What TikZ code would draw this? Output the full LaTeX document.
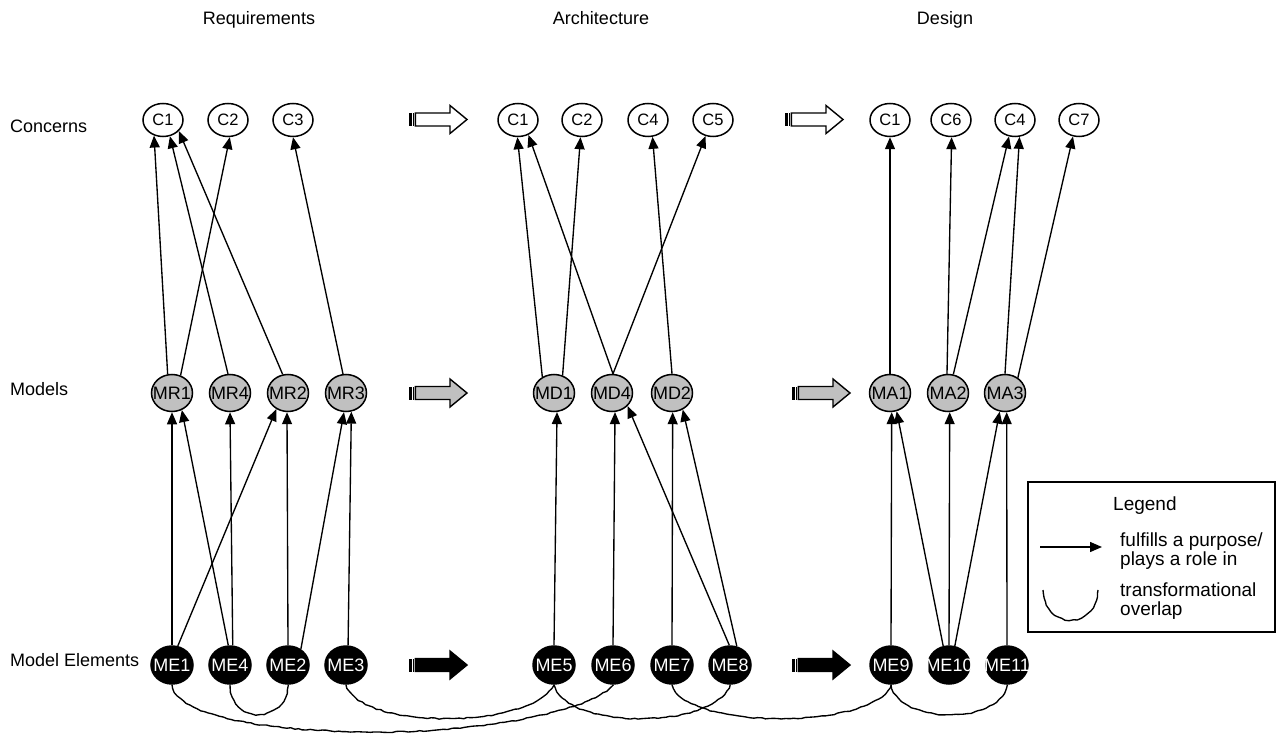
\documentclass[tikz,border=0pt]{standalone}
\usepackage{fontspec}
\setmainfont{Liberation Sans}
\usetikzlibrary{arrows.meta,shapes.geometric,decorations.pathmorphing}
\definecolor{mgray}{RGB}{192,192,192}
\tikzset{
  conc/.style={ellipse,draw,line width=1.5pt,fill=white,minimum width=40pt,minimum height=33pt,inner sep=0pt},
  modl/.style={ellipse,draw,line width=1.5pt,fill=mgray,minimum width=41pt,minimum height=37pt,inner sep=0pt},
  elem/.style={ellipse,draw,line width=1.5pt,fill=black,minimum width=42pt,minimum height=38pt,inner sep=0pt},
  ctxt/.style={font=\fontsize{16.5}{16.5}\selectfont,inner sep=0pt},
  mtxt/.style={font=\fontsize{18}{18}\selectfont,inner sep=0pt},
  etxt/.style={font=\fontsize{18}{18}\selectfont,inner sep=0pt,text=white},
  rowlab/.style={font=\fontsize{18}{18}\selectfont,anchor=west,inner sep=0pt},
  title/.style={font=\fontsize{18}{18}\selectfont,inner sep=0pt,anchor=base},
  legtxt/.style={font=\fontsize{19}{19.5}\selectfont,anchor=west,inner sep=0pt,align=left},
  fl/.style={line width=1.35pt,-{Triangle[length=12pt,width=10pt]}},
  ov/.style={line width=1.35pt,decorate,decoration={random steps,segment length=4pt,amplitude=0.6pt}},
  pics/blockarr/.style={code={
    \fill[black] (0,-6.5) rectangle (2.8,6.5);
    \fill[black] (3.8,-6.5) rectangle (5.3,6.5);
    \draw[fill=#1,line width=1.4pt] (6.3,-6.5) -- (41,-6.5) -- (41,-14) -- (58,0) -- (41,14) -- (41,6.5) -- (6.3,6.5) -- cycle;
  }}
}
\begin{document}
\pgfmathsetseed{7}
\begin{tikzpicture}[x=1pt,y=-1pt]
\useasboundingbox (0,0) rectangle (1277,735);

% titles
\node[title] (tR) at (259,24.3) {Requirements};
\node[title] (tA) at (601,24.3) {Architecture};
\node[title] (tD) at (945,24.3) {Design};

% row labels
\node[rowlab] (lC) at (10,126) {Concerns};
\node[rowlab] (lM) at (10,389) {Models};
\node[rowlab] (lE) at (10,660) {Model Elements};

% Requirements
\node[conc,label={[ctxt]center:C1}] (rC1) at (163,120) {};
\node[conc,label={[ctxt]center:C2}] (rC2) at (228,120) {};
\node[conc,label={[ctxt]center:C3}] (rC3) at (293,120) {};
\node[modl,label={[mtxt]center:MR1}] (rMR1) at (172,393) {};
\node[modl,label={[mtxt]center:MR4}] (rMR4) at (230,393) {};
\node[modl,label={[mtxt]center:MR2}] (rMR2) at (288,393) {};
\node[modl,label={[mtxt]center:MR3}] (rMR3) at (346,393) {};
\node[elem,label={[etxt]center:ME1}] (rME1) at (172,665) {};
\node[elem,label={[etxt]center:ME4}] (rME4) at (230,665) {};
\node[elem,label={[etxt]center:ME2}] (rME2) at (288,665) {};
\node[elem,label={[etxt]center:ME3}] (rME3) at (346,665) {};

% Architecture
\node[conc,label={[ctxt]center:C1}] (aC1) at (518,120) {};
\node[conc,label={[ctxt]center:C2}] (aC2) at (582,120) {};
\node[conc,label={[ctxt]center:C4}] (aC4) at (648,120) {};
\node[conc,label={[ctxt]center:C5}] (aC5) at (713,120) {};
\node[modl,label={[mtxt]center:MD1}] (MD1) at (554,393) {};
\node[modl,label={[mtxt]center:MD4}] (MD4) at (612,393) {};
\node[modl,label={[mtxt]center:MD2}] (MD2) at (672,393) {};
\node[elem,label={[etxt]center:ME5}] (ME5) at (554,665) {};
\node[elem,label={[etxt]center:ME6}] (ME6) at (613,665) {};
\node[elem,label={[etxt]center:ME7}] (ME7) at (672,665) {};
\node[elem,label={[etxt]center:ME8}] (ME8) at (730,665) {};

% Design
\node[conc,label={[ctxt]center:C1}] (dC1) at (890,120) {};
\node[conc,label={[ctxt]center:C6}] (dC6) at (951,120) {};
\node[conc,label={[ctxt]center:C4}] (dC4) at (1015,120) {};
\node[conc,label={[ctxt]center:C7}] (dC7) at (1079,120) {};
\node[modl,label={[mtxt]center:MA1}] (MA1) at (890,393) {};
\node[modl,label={[mtxt]center:MA2}] (MA2) at (948,393) {};
\node[modl,label={[mtxt]center:MA3}] (MA3) at (1005,393) {};
\node[elem,label={[etxt]center:ME9}] (ME9) at (891,665) {};
\node[elem,label={[etxt]center:ME10}] (ME10) at (949,665) {};
\node[elem,label={[etxt]center:ME11}] (ME11) at (1007,665) {};

% block arrows
\pic at (409,119.5) {blockarr=white};
\pic at (409,393) {blockarr=mgray};
\pic at (409,665) {blockarr=black};
\pic at (785,119.5) {blockarr=white};
\pic at (792,393) {blockarr=mgray};
\pic at (792,665) {blockarr=black};

% Requirements connectors
\draw[fl] (rMR1.103) -- (rC1.-120);
\draw[fl] (rMR1.64) -- (rC2.-84);
\draw[fl] (rMR4.96) -- (rC1.-67);
\draw[fl] (rMR2.106) -- (rC1.-35);
\draw[fl] (rMR3.99) -- (rC3.-90);
\draw[fl] (rME1.90) -- (rMR1.-90);
\draw[fl] (rME1.73) -- (rMR2.-126);
\draw[fl] (rME4.95) -- (rMR1.-60);
\draw[fl] (rME4.82) -- (rMR4.-90);
\draw[fl] (rME2.90) -- (rMR2.-93);
\draw[fl] (rME2.51) -- (rMR3.-96);
\draw[fl] (rME3.84) -- (rMR3.-74);

% Architecture connectors
\draw[fl] (MD1.126) -- (aC1.-92);
\draw[fl] (MD1.64) -- (aC2.-95);
\draw[fl] (MD4.87) -- (aC1.-55);
\draw[fl] (MD4.87) -- (aC5.-115);
\draw[fl] (MD2.90) -- (aC4.-75);
\draw[fl] (ME5.90) -- (MD1.-81);
\draw[fl] (ME6.90) -- (MD4.-81);
\draw[fl] (ME7.90) -- (MD2.-88);
\draw[fl] (ME8.92) -- (MD4.-40);
\draw[fl] (ME8.70) -- (MD2.-57);

% Design connectors
\draw[fl] (MA1.90) -- (dC1.-90);
\draw[fl] (MA2.93) -- (dC6.-88);
\draw[fl] (MA2.74) -- (dC4.-110);
\draw[fl] (MA3.90) -- (dC4.-75);
\draw[fl] (MA3.50) -- (dC7.-110);
\draw[fl] (ME9.90) -- (MA1.-85);
\draw[fl] (ME10.107) -- (MA1.-70);
\draw[fl] (ME10.90) -- (MA2.-85);
\draw[fl] (ME10.73) -- (MA3.-106);
\draw[fl] (ME11.90) -- (MA3.-85);

% transformational overlaps
\draw[ov] (rME1.south) .. controls (176,715) and (260,732) .. (380,732) .. controls (480,732) and (590,712) .. (ME6.south);
\draw[ov] (rME4.south) .. controls (231,727) and (288,722) .. (rME2.south);
\draw[ov] (rME3.south) .. controls (360,730) and (530,730) .. (ME5.south);
\draw[ov] (ME5.south) .. controls (565,730) and (715,730) .. (ME8.south);
\draw[ov] (ME7.south) .. controls (685,730) and (875,730) .. (ME9.south);
\draw[ov] (ME9.south) .. controls (900,725) and (1000,725) .. (ME11.south);

% legend
\node[draw,line width=1.4pt,minimum width=247pt,minimum height=150pt,inner sep=0pt] (leg) at (1151.5,557) {};
\node[legtxt] (legT) at (1113,506) {Legend};
\coordinate (la1) at (1040,547);
\coordinate (la2) at (1102,547);
\draw[fl] (la1) -- (la2);
\node[legtxt] (legA) at (1120,551) {fulfills a purpose/\\plays a role in};
\coordinate (lc1) at (1043,590);
\coordinate (lc2) at (1098,590);
\draw[ov] (lc1) .. controls (1045,630) and (1096,630) .. (lc2);
\node[legtxt] (legB) at (1120,601) {transformational\\overlap};
\end{tikzpicture}
\end{document}
